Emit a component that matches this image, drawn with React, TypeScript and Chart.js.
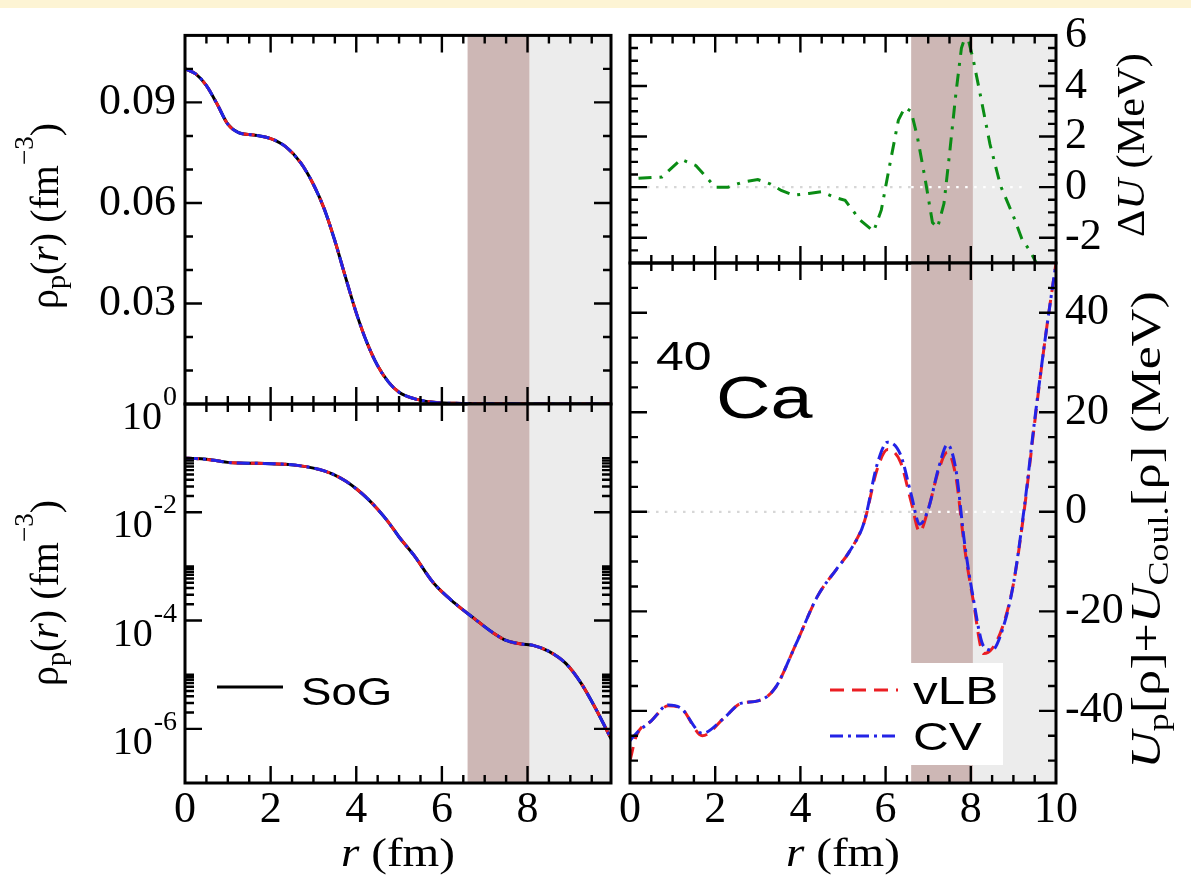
import React, { useEffect, useRef } from 'react';
import { Chart, registerables } from 'chart.js';

Chart.register(...registerables);

const PAGE_W = 1191;
const PAGE_H = 875;

// ---------------- data ----------------
// proton density rho_p(r) (SoG, vLB and CV coincide on this scale)
const rhoR = [0, 0.25, 0.5, 0.75, 1.0, 1.25, 1.6, 2.0, 2.35, 2.7, 3.0, 3.25, 3.5, 3.75, 4.0, 4.25, 4.5, 4.75, 5.0, 5.35, 5.8, 6.3, 6.75, 7.2, 7.5, 7.85, 8.15, 8.5, 8.9, 9.25, 9.6, 10.0];
const rhoSoG = [0.1, 0.0985, 0.095, 0.0895, 0.0835, 0.081, 0.0803, 0.0792, 0.0768, 0.072, 0.0655, 0.0583, 0.0487, 0.0378, 0.0272, 0.0183, 0.0114, 0.0066, 0.0035, 0.0016, 5.0e-4, 2.1e-4, 1.1e-4, 5.9e-5, 4.3e-5, 3.7e-5, 3.45e-5, 2.7e-5, 1.6e-5, 7.0e-6, 2.3e-6, 5.5e-7];
const rhoVLB = rhoSoG;
const rhoCV = rhoSoG;

// potential U_p + U_Coul (MeV)
const potR = [0, 0.15, 0.5, 0.9, 1.2, 1.7, 2.2, 2.6, 3.0, 3.4, 3.9, 4.4, 4.85, 5.15, 5.5, 5.8, 6.05, 6.35, 6.6, 6.8, 7.0, 7.25, 7.45, 7.65, 7.85, 8.05, 8.3, 8.5, 8.75, 9.0, 9.25, 9.5, 9.75, 10.0];
const uVLB = [-50, -45, -42, -39, -39.5, -45, -41.5, -38.5, -38, -35.5, -26.5, -17, -11.5, -8, -2, 8.5, 12.5, 10, 2, -4, 0.5, 8.5, 12, 7, -7, -17.5, -28.5, -27.5, -23, -14.5, 0, 18, 35, 50];
const uCV = [-46, -44.5, -42, -38.8, -39.5, -44.5, -41.5, -38.5, -38, -35.5, -26.5, -17, -11.5, -8, -2, 9.5, 14, 11.5, 3.5, -2.5, 0.5, 9, 13.5, 8.5, -6, -17, -27, -27.8, -23.5, -14.5, 0.5, 18.5, 35, 50];

// Delta U (MeV)
const dUR = [0.2, 0.75, 1.2, 1.55, 2.0, 2.3, 2.65, 3.0, 3.3, 3.55, 3.85, 4.2, 4.5, 4.8, 5.05, 5.4, 5.72, 5.9, 6.1, 6.3, 6.45, 6.6, 6.75, 6.92, 7.1, 7.22, 7.37, 7.5, 7.65, 7.78, 7.9, 8.05, 8.2, 8.45, 8.7, 9.0, 9.2, 9.4, 9.6];
const dUVals = [0.35, 0.4, 1.1, 0.85, 0.0, 0.0, 0.2, 0.3, 0.12, -0.13, -0.32, -0.25, -0.18, -0.4, -0.52, -1.3, -1.75, -0.9, 0.9, 2.65, 3.15, 3.0, 1.95, 0.4, -1.4, -1.6, -0.65, 1.3, 3.7, 5.5, 6.1, 5.1, 3.85, 1.7, 0.05, -1.15, -2.05, -2.55, -3.2];

// ticks / ranges / bands
const xTicksLeft = [0, 2, 4, 6, 8];
const xTicksRight = [0, 2, 4, 6, 8, 10];
const rhoLinTicks = [0.03, 0.06, 0.09];
const rhoLogExponents = [0, -2, -4, -6];
const dUTicks = [-2, 0, 2, 4, 6];
const uTicks = [-40, -20, 0, 20, 40];
const rLeftRange = [0, 9.95];
const rRightRange = [0, 10];
const rhoLinRange = [0, 0.11];
const rhoLogRange = [1e-7, 1];
const dURange = [-3, 6];
const uRange = [-54.5, 50];
const bandMixed = [6.6, 8.05];
const bandOuter = [8.05, 10];
const zeroSpan = [0.4, 9.3];

// ---------------- styles ----------------
const SERIF = '"Liberation Serif", "Times New Roman", Times, serif';
const SANS = '"Liberation Sans", Arial, Helvetica, sans-serif';
const TICK_FONT = 44;
const RED = 'rgb(235,30,35)';
const BLUE = 'rgb(35,35,230)';
const GREEN = 'rgb(10,140,20)';
const BAND_MIXED = 'rgb(205,183,181)';
const BAND_OUTER = 'rgb(236,236,236)';
const DASH_RED = [14, 8];
const DASH_BLUE = [13, 5, 3, 5];
const DASH_GREEN = [13, 8, 3, 8];

function range(a: number, b: number, step: number) {
  const out: number[] = [];
  for (let v = a; v <= b + 1e-9; v += step) out.push(+v.toFixed(6));
  return out;
}
function zip(xs: number[], ys: number[]) {
  return xs.map((x, i) => ({ x, y: ys[i] }));
}

type Part = { t: string; size: number; fam?: string; it?: boolean; dy?: number };
function setFont(ctx: CanvasRenderingContext2D, p: Part) {
  ctx.font = `${p.it ? 'italic ' : ''}${p.size}px ${p.fam || SERIF}`;
}
function drawRich(ctx: CanvasRenderingContext2D, parts: Part[], x: number, y: number, rot = 0, align = 'left', stretch = 1) {
  ctx.save();
  ctx.translate(x, y);
  if (rot) ctx.rotate(rot);
  ctx.scale(stretch, 1);
  ctx.textBaseline = 'alphabetic';
  ctx.textAlign = 'left';
  ctx.fillStyle = '#000';
  const widths = parts.map((p) => {
    setFont(ctx, p);
    return ctx.measureText(p.t).width;
  });
  const total = widths.reduce((s, w) => s + w, 0);
  let cx = align === 'center' ? -total / 2 : align === 'right' ? -total : 0;
  parts.forEach((p, i) => {
    setFont(ctx, p);
    ctx.fillText(p.t, cx, p.dy || 0);
    cx += widths[i];
  });
  ctx.restore();
}

const rhoTitle: Part[] = [
  { t: 'ρ', size: 40 },
  { t: 'p', size: 28, dy: 7 },
  { t: '(', size: 40 },
  { t: 'r', size: 40, it: true },
  { t: ') (fm', size: 40 },
  { t: '−3', size: 27, dy: -25 },
  { t: ')', size: 40 },
];
const rTitle: Part[] = [
  { t: 'r', size: 41, it: true },
  { t: ' (fm)', size: 41 },
];
const dUTitle: Part[] = [
  { t: 'Δ', size: 40 },
  { t: 'U', size: 40, it: true },
  { t: ' (MeV)', size: 40 },
];
const uTitle: Part[] = [
  { t: 'U', size: 42, it: true },
  { t: 'p', size: 29, dy: 8 },
  { t: '[ρ]+', size: 42 },
  { t: 'U', size: 42, it: true },
  { t: 'Coul.', size: 29, dy: 8 },
  { t: '[ρ] (MeV)', size: 42 },
];

type Spec = {
  xMajor: number[];
  xMinor: number[];
  yMajor: number[];
  yMinor: number[];
  yMinorLen?: number;
  zero?: boolean;
  over?: (ctx: CanvasRenderingContext2D, chart: any) => void;
  text?: (ctx: CanvasRenderingContext2D, chart: any) => void;
};

function makePlugin(spec: Spec) {
  return {
    id: 'panelDecor',
    beforeDatasetsDraw(chart: any) {
      const { ctx, chartArea: a } = chart;
      const xs = chart.scales.x;
      const ys = chart.scales.y;
      ctx.save();
      ctx.beginPath();
      ctx.rect(a.left, a.top, a.right - a.left, a.bottom - a.top);
      ctx.clip();
      const m0 = xs.getPixelForValue(bandMixed[0]);
      const m1 = xs.getPixelForValue(bandMixed[1]);
      const o0 = xs.getPixelForValue(bandOuter[0]);
      const o1 = xs.getPixelForValue(bandOuter[1]);
      ctx.fillStyle = BAND_MIXED;
      ctx.fillRect(m0, a.top, m1 - m0, a.bottom - a.top);
      ctx.fillStyle = BAND_OUTER;
      ctx.fillRect(o0, a.top, o1 - o0, a.bottom - a.top);
      if (spec.zero) {
        const y0 = ys.getPixelForValue(0);
        const z0 = xs.getPixelForValue(zeroSpan[0]);
        const z1 = xs.getPixelForValue(zeroSpan[1]);
        ctx.lineWidth = 2.2;
        ctx.setLineDash([2.5, 6.5]);
        ctx.strokeStyle = 'rgb(214,214,214)';
        ctx.beginPath();
        ctx.moveTo(z0, y0);
        ctx.lineTo(m0, y0);
        ctx.stroke();
        ctx.strokeStyle = '#ffffff';
        ctx.beginPath();
        ctx.moveTo(m0, y0);
        ctx.lineTo(z1, y0);
        ctx.stroke();
      }
      ctx.restore();
    },
    afterDatasetsDraw(chart: any) {
      const { ctx, chartArea: a } = chart;
      const xs = chart.scales.x;
      const ys = chart.scales.y;
      ctx.save();
      if (spec.over) spec.over(ctx, chart);
      // frame
      ctx.setLineDash([]);
      ctx.strokeStyle = '#000';
      ctx.lineWidth = 3;
      ctx.strokeRect(a.left, a.top, a.right - a.left, a.bottom - a.top);
      // inward ticks on all four sides
      ctx.lineWidth = 2.4;
      ctx.beginPath();
      const xt = (v: number, len: number) => {
        const p = xs.getPixelForValue(v);
        if (p < a.left + 1 || p > a.right - 1) return;
        ctx.moveTo(p, a.bottom);
        ctx.lineTo(p, a.bottom - len);
        ctx.moveTo(p, a.top);
        ctx.lineTo(p, a.top + len);
      };
      const yt = (v: number, len: number) => {
        const p = ys.getPixelForValue(v);
        if (p < a.top + 1 || p > a.bottom - 1) return;
        ctx.moveTo(a.left, p);
        ctx.lineTo(a.left + len, p);
        ctx.moveTo(a.right, p);
        ctx.lineTo(a.right - len, p);
      };
      spec.xMinor.forEach((v) => xt(v, 8));
      spec.xMajor.forEach((v) => xt(v, 17));
      spec.yMinor.forEach((v) => yt(v, spec.yMinorLen || 8));
      spec.yMajor.forEach((v) => yt(v, 17));
      ctx.stroke();
      if (spec.text) spec.text(ctx, chart);
      ctx.restore();
    },
  };
}

function xAxis(r: number[], ticks: number[], show: boolean, height: number) {
  return {
    type: 'linear',
    position: 'bottom',
    min: r[0],
    max: r[1],
    afterBuildTicks: (s: any) => {
      s.ticks = ticks.map((v) => ({ value: v }));
    },
    afterFit: (s: any) => {
      s.height = height;
    },
    grid: { display: false, drawTicks: false },
    border: { display: false },
    ticks: {
      display: show,
      autoSkip: false,
      maxRotation: 0,
      padding: 1,
      color: '#000',
      font: { family: SERIF, size: TICK_FONT },
      callback: (v: any) => String(v),
    },
  };
}

function yAxis(type: string, r: number[], ticks: number[], show: boolean, pos: string, width: number) {
  return {
    type,
    position: pos,
    min: r[0],
    max: r[1],
    afterBuildTicks: (s: any) => {
      s.ticks = ticks.map((v) => ({ value: v }));
    },
    afterFit: (s: any) => {
      s.width = width;
    },
    grid: { display: false, drawTicks: false },
    border: { display: false },
    ticks: {
      display: show,
      autoSkip: false,
      padding: 9,
      color: '#000',
      font: { family: SERIF, size: TICK_FONT },
      callback: (v: any) => String(v),
    },
  };
}

function baseOptions(padding: any, scales: any) {
  return {
    responsive: false,
    maintainAspectRatio: false,
    animation: false,
    devicePixelRatio: 1,
    events: [],
    layout: { padding },
    plugins: { legend: { display: false }, tooltip: { enabled: false }, title: { display: false } },
    elements: { point: { radius: 0 } },
    scales,
  };
}

function densityDatasets() {
  return [
    { label: 'CV', data: zip(rhoR, rhoCV), borderColor: BLUE, borderWidth: 3, borderDash: DASH_BLUE, cubicInterpolationMode: 'monotone', order: 1, clip: 0 },
    { label: 'vLB', data: zip(rhoR, rhoVLB), borderColor: RED, borderWidth: 3, borderDash: DASH_RED, cubicInterpolationMode: 'monotone', order: 2, clip: 0 },
    { label: 'SoG', data: zip(rhoR, rhoSoG), borderColor: '#000', borderWidth: 3, cubicInterpolationMode: 'monotone', order: 3, clip: 0 },
  ];
}

const xMinorLeft = range(0, 9.5, 0.5);
const xMinorRight = range(0, 10, 0.5);
const logMinor: number[] = [];
[-2, -4, -6].forEach((e) => {
  for (let k = 2; k <= 10; k++) logMinor.push(k * Math.pow(10, e));
});

const LEFT_AXIS_W = 110;
const LEFT_PAD = 185 - LEFT_AXIS_W;

function configTL() {
  const spec: Spec = {
    xMajor: xTicksLeft,
    xMinor: xMinorLeft,
    yMajor: [0, ...rhoLinTicks],
    yMinor: range(0, 0.11, 0.01),
    text: (ctx) => {
      drawRich(ctx, rhoTitle, 58, 216, -Math.PI / 2, 'center', 1.0);
    },
  };
  return {
    type: 'line',
    data: { datasets: densityDatasets() },
    options: baseOptions(
      { left: LEFT_PAD, top: 28, right: 580, bottom: 471 },
      {
        x: xAxis(rLeftRange, xTicksLeft, false, 0),
        y: yAxis('linear', rhoLinRange, rhoLinTicks, true, 'left', LEFT_AXIS_W),
      }
    ),
    plugins: [makePlugin(spec)],
  };
}

function configBL() {
  const spec: Spec = {
    xMajor: xTicksLeft,
    xMinor: xMinorLeft,
    yMajor: rhoLogExponents.map((e) => Math.pow(10, e)),
    yMinor: logMinor,
    yMinorLen: 9,
    over: (ctx) => {
      ctx.setLineDash([]);
      ctx.strokeStyle = '#000';
      ctx.lineWidth = 3;
      ctx.beginPath();
      ctx.moveTo(217, 687);
      ctx.lineTo(283, 687);
      ctx.stroke();
      drawRich(ctx, [{ t: 'SoG', size: 38, fam: SANS }], 301, 705, 0, 'left', 1.2);
    },
    text: (ctx, chart) => {
      const a = chart.chartArea;
      const ys = chart.scales.y;
      rhoLogExponents.forEach((e) => {
        const py = ys.getPixelForValue(Math.pow(10, e));
        const sup = String(e);
        ctx.font = `28px ${SERIF}`;
        const ws = ctx.measureText(sup).width;
        ctx.font = `40px ${SERIF}`;
        const w10 = ctx.measureText('10').width;
        const xEnd = a.left - 8;
        ctx.fillStyle = '#000';
        ctx.textBaseline = 'alphabetic';
        ctx.textAlign = 'left';
        ctx.font = `40px ${SERIF}`;
        ctx.fillText('10', xEnd - ws - w10 - 1, py + 25);
        ctx.font = `28px ${SERIF}`;
        ctx.fillText(sup, xEnd - ws, py + 1);
      });
      drawRich(ctx, rhoTitle, 58, 593, -Math.PI / 2, 'center', 1.0);
      drawRich(ctx, rTitle, (a.left + a.right) / 2, 866, 0, 'center', 1.15);
    },
  };
  return {
    type: 'line',
    data: { datasets: densityDatasets() },
    options: baseOptions(
      { left: LEFT_PAD, top: 404, right: 580, bottom: 0 },
      {
        x: xAxis(rLeftRange, xTicksLeft, true, 92),
        y: yAxis('logarithmic', rhoLogRange, rhoLogExponents.map((e) => Math.pow(10, e)), false, 'left', LEFT_AXIS_W),
      }
    ),
    plugins: [makePlugin(spec)],
  };
}

function configTR() {
  const spec: Spec = {
    xMajor: xTicksRight,
    xMinor: xMinorRight,
    yMajor: dUTicks,
    yMinor: range(-3, 6, 0.5),
    zero: true,
    text: (ctx) => {
      drawRich(ctx, dUTitle, 1144, 145, -Math.PI / 2, 'center', 1.06);
    },
  };
  return {
    type: 'line',
    data: {
      datasets: [
        { label: 'ΔU', data: zip(dUR, dUVals), borderColor: GREEN, borderWidth: 3, borderDash: DASH_GREEN, tension: 0, clip: 0 },
      ],
    },
    options: baseOptions(
      { left: 630, top: 27, right: 35, bottom: 612 },
      {
        x: xAxis(rRightRange, xTicksRight, false, 0),
        y: yAxis('linear', dURange, dUTicks, true, 'right', 100),
      }
    ),
    plugins: [makePlugin(spec)],
  };
}

function configBR() {
  const spec: Spec = {
    xMajor: xTicksRight,
    xMinor: xMinorRight,
    yMajor: uTicks,
    yMinor: range(-50, 50, 5),
    zero: true,
    over: (ctx) => {
      ctx.fillStyle = '#fff';
      ctx.fillRect(815, 663, 188, 102);
      ctx.lineWidth = 3;
      ctx.strokeStyle = RED;
      ctx.setLineDash(DASH_RED);
      ctx.beginPath();
      ctx.moveTo(830, 690);
      ctx.lineTo(898, 690);
      ctx.stroke();
      ctx.strokeStyle = BLUE;
      ctx.setLineDash(DASH_BLUE);
      ctx.beginPath();
      ctx.moveTo(830, 736);
      ctx.lineTo(898, 736);
      ctx.stroke();
      ctx.setLineDash([]);
      drawRich(ctx, [{ t: 'vLB', size: 39, fam: SANS }], 913, 704, 0, 'left', 1.27);
      drawRich(ctx, [{ t: 'CV', size: 39, fam: SANS }], 913, 750, 0, 'left', 1.27);
      drawRich(ctx, [{ t: '40', size: 40, fam: SANS }], 656, 370, 0, 'left', 1.25);
      drawRich(ctx, [{ t: 'Ca', size: 59, fam: SANS }], 716, 418, 0, 'left', 1.28);
    },
    text: (ctx, chart) => {
      const a = chart.chartArea;
      drawRich(ctx, uTitle, 1160, 530, -Math.PI / 2, 'center', 1.24);
      drawRich(ctx, rTitle, (a.left + a.right) / 2, 866, 0, 'center', 1.15);
    },
  };
  return {
    type: 'line',
    data: {
      datasets: [
        { label: 'CV', data: zip(potR, uCV), borderColor: BLUE, borderWidth: 3, borderDash: DASH_BLUE, cubicInterpolationMode: 'monotone', order: 1, clip: 0 },
        { label: 'vLB', data: zip(potR, uVLB), borderColor: RED, borderWidth: 3, borderDash: DASH_RED, cubicInterpolationMode: 'monotone', order: 2, clip: 0 },
      ],
    },
    options: baseOptions(
      { left: 630, top: 263, right: 35, bottom: 0 },
      {
        x: xAxis(rRightRange, xTicksRight, true, 92),
        y: yAxis('linear', uRange, uTicks, true, 'right', 100),
      }
    ),
    plugins: [makePlugin(spec)],
  };
}

function Panel({ build }: { build: () => any }) {
  const ref = useRef<HTMLCanvasElement>(null);
  useEffect(() => {
    if (!ref.current) return;
    const chart = new Chart(ref.current, build());
    return () => chart.destroy();
  }, [build]);
  return (
    <canvas
      ref={ref}
      width={PAGE_W}
      height={PAGE_H}
      style={{ position: 'absolute', left: 0, top: 0, width: PAGE_W, height: PAGE_H }}
    />
  );
}

export default function App() {
  return (
    <div
      style={{
        position: 'absolute',
        left: 0,
        top: 0,
        width: PAGE_W,
        height: PAGE_H,
        background: '#ffffff',
        overflow: 'hidden',
      }}
    >
      <div style={{ position: 'absolute', left: 0, top: 0, width: PAGE_W, height: 8, background: 'rgb(253,244,212)' }} />
      <Panel build={configTL} />
      <Panel build={configBL} />
      <Panel build={configTR} />
      <Panel build={configBR} />
    </div>
  );
}
